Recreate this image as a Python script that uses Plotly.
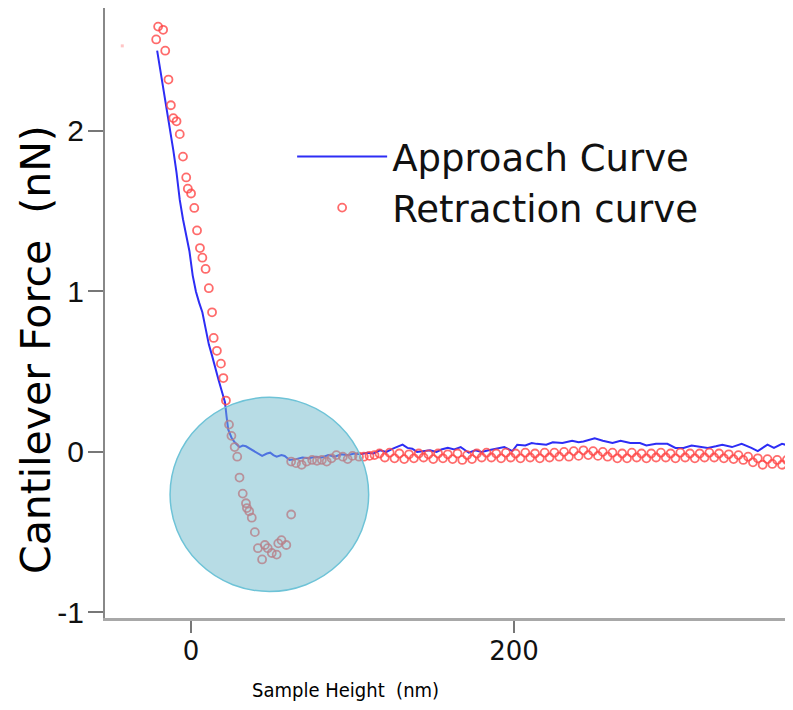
import plotly.graph_objects as go

# ---------------- data ----------------
approach_x = [-21, -19, -17, -15, -13, -11, -9, -7, -5, -3, -1, 1, 3, 5, 7, 9, 11, 13, 15, 17,
              19, 21, 22, 23, 25, 27, 30, 32, 34, 38, 41, 44, 47, 49, 51, 53, 56, 58, 61,
              65, 69, 73, 77, 81, 85, 89, 93, 97, 101, 105, 109, 113, 117,
              121, 125, 131, 134, 137, 140, 144, 148, 152, 155, 159, 163, 167, 172, 176, 180,
              185, 190, 194, 199, 202, 207, 211, 214, 220, 224, 230, 236, 240, 243, 247, 250,
              255, 261, 266, 272, 278, 282, 288, 295, 300, 305, 310, 314, 320, 325, 329, 335,
              341, 347, 351, 357, 361, 366, 372]
approach_y = [2.50, 2.38, 2.26, 2.12, 2.00, 1.88, 1.74, 1.57, 1.45, 1.35, 1.25, 1.10, 1.00, 0.93,
              0.87, 0.77, 0.67, 0.60, 0.52, 0.45, 0.38, 0.31, 0.22, 0.14, 0.09, 0.06, 0.03, 0.04,
              0.035, 0.01, -0.01, -0.025, -0.01, -0.005, -0.02, -0.03, -0.02, -0.025, -0.05,
              -0.045, -0.035, -0.04, -0.03, -0.035, -0.02, -0.03, -0.015, -0.02, -0.01, -0.015,
              -0.005, -0.01, 0.01, 0.0, 0.02, 0.045, 0.025, 0.02, 0.0, 0.005, 0.01, 0.0, 0.015,
              0.025, 0.015, 0.03, -0.005, 0.01, 0.0, 0.012, 0.02, 0.03, 0.005, 0.045, 0.04,
              0.055, 0.05, 0.045, 0.06, 0.055, 0.07, 0.06, 0.065, 0.075, 0.085, 0.07, 0.055,
              0.07, 0.055, 0.055, 0.04, 0.05, 0.05, 0.025, 0.025, 0.04, 0.035, 0.025, 0.035,
              0.045, 0.03, 0.05, 0.025, 0.005, 0.045, 0.025, 0.05, 0.035]

retraction_x = [-20.4, -17.3, -21.6, -16, -14, -12.5, -11, -9, -7, -5, -3, -2, 0, 2, 3.7, 5.5,
                7, 9, 11, 13, 14, 16, 18.5, 20, 21.6, 23.5, 25, 27, 28.6, 30, 32, 34, 34.6, 36,
                37.6, 39.5, 41.4, 44, 45.7, 47.5, 50, 53, 54, 56, 59, 62,
                62, 65, 68.5, 71.6, 75, 78, 81, 84, 87, 90, 94, 97, 100, 104, 107, 110.5,
                113.6, 116.7, 120, 123, 126, 129, 132, 135, 138, 141, 144, 147, 150, 153, 156,
                159, 162, 165, 168, 171, 174, 177, 180, 183, 186, 189, 192, 195, 198, 201, 204,
                207, 210, 213, 216, 219, 222, 225, 228, 231, 234, 237, 240, 243, 246, 249, 252,
                255, 258, 261, 264, 267, 270, 273, 276, 279, 282, 285, 288, 291, 294, 297, 300,
                303, 306, 309, 312, 315, 318, 321, 324, 327, 330, 333, 336, 339, 342, 345, 348,
                351, 354, 357, 360, 363, 366, 369, 372]
retraction_y = [2.65, 2.63, 2.57, 2.50, 2.32, 2.16, 2.08, 2.06, 1.98, 1.84, 1.71, 1.64, 1.61,
                1.52, 1.38, 1.27, 1.21, 1.14, 1.02, 0.87, 0.71, 0.63, 0.55, 0.46, 0.32, 0.17,
                0.10, 0.03, -0.03, -0.16, -0.26, -0.32, -0.35, -0.37, -0.41, -0.50, -0.60, -0.67,
                -0.58, -0.60, -0.63, -0.64, -0.57, -0.55, -0.58, -0.39,
                -0.06, -0.07, -0.08, -0.06, -0.05, -0.055, -0.05, -0.06, -0.04, -0.02, -0.03,
                -0.045, -0.025, -0.03, -0.03, -0.025, -0.02, -0.01, -0.035, -0.005, -0.04,
                -0.01, -0.045, -0.015, -0.04, -0.01, -0.035, -0.015, -0.045, -0.01, -0.04,
                -0.015, -0.045, -0.01, -0.05, -0.02, -0.045, -0.01, -0.035, -0.005, -0.035,
                -0.01, -0.04, -0.005, -0.035, -0.01, -0.04, -0.005, -0.035, -0.01, -0.04,
                -0.005, -0.035, -0.005, -0.03, 0.0, -0.03, 0.005, -0.025, 0.01, -0.02, 0.005,
                -0.025, 0.0, -0.03, -0.005, -0.04, -0.01, -0.04, -0.005, -0.035, -0.01,
                -0.04, -0.01, -0.035, -0.005, -0.035, -0.01, -0.04, -0.005, -0.035, -0.01,
                -0.04, -0.01, -0.035, -0.005, -0.035, -0.01, -0.04, -0.015, -0.045, -0.02,
                -0.05, -0.03, -0.065, -0.04, -0.08, -0.045, -0.075, -0.05, -0.08, -0.05,
                -0.075]

stray_x = [-42.6]
stray_y = [2.53]

x_tickvals = [0, 200]
x_ticktext = ["0", "200"]
y_tickvals = [-1, 0, 1, 2]
y_ticktext = ["-1", "0", "1", "2"]

# highlight circle (data units)
circle_x = [-13, 110]
circle_y = [-0.87, 0.34]

fig = go.Figure()

fig.add_trace(go.Scatter(
    x=stray_x, y=stray_y, mode="markers", showlegend=False, hoverinfo="skip",
    marker=dict(symbol="square", size=3, color="rgba(255,150,150,0.55)"),
))
fig.add_trace(go.Scatter(
    x=approach_x, y=approach_y, mode="lines", name="Approach Curve",
    line=dict(color="rgb(45,45,245)", width=2), legendgroup="a",
))
fig.add_trace(go.Scatter(
    x=retraction_x, y=retraction_y, mode="markers", name="Retraction curve",
    marker=dict(symbol="circle-open", size=8, color="rgba(255,70,70,0.8)",
                line=dict(width=1.8)),
    legendgroup="b",
))

fig.add_shape(type="circle", xref="x", yref="y",
              x0=circle_x[0], x1=circle_x[1], y0=circle_y[0], y1=circle_y[1],
              fillcolor="rgba(112,186,204,0.5)",
              line=dict(color="rgb(110,195,215)", width=1.5), layer="above")

fig.update_layout(
    width=785, height=702,
    margin=dict(l=97, r=0, t=0, b=92),
    paper_bgcolor="white", plot_bgcolor="white",
    font=dict(family="Liberation Sans, Arial, sans-serif", color="black"),
    showlegend=True,
    legend=dict(x=0.272, y=0.8066, xanchor="left", yanchor="top",
                bgcolor="rgba(0,0,0,0)", borderwidth=0,
                font=dict(family="DejaVu Sans", size=37, color="#111"),
                itemwidth=90, tracegroupgap=0),
    xaxis=dict(range=[-53.3, 372.8], showgrid=False, zeroline=False,
               showline=True, linecolor="#a8a8a8", linewidth=3,
               ticks="outside", ticklen=12, tickwidth=1.5, tickcolor="#777",
               tickvals=x_tickvals, ticktext=x_ticktext, ticklabelstandoff=-4,
               tickfont=dict(family="DejaVu Sans", size=26, color="#111")),
    yaxis=dict(range=[-1.035, 2.766], showgrid=False, zeroline=False,
               showline=True, linecolor="#888", linewidth=2,
               ticks="outside", ticklen=15, tickwidth=2, tickcolor="#777",
               tickvals=y_tickvals, ticktext=y_ticktext, ticklabelstandoff=-2,
               tickfont=dict(family="Liberation Sans", size=30, color="#111")),
    annotations=[
        dict(text="Cantilever Force\u00a0 (nN)", textangle=-90, x=-0.1003, y=0.441,
             xref="paper", yref="paper", xanchor="center", yanchor="middle",
             showarrow=False,
             font=dict(family="DejaVu Sans", size=41, color="black")),
        dict(text="Sample Height\u00a0 (nm)", x=0.349, y=-0.118,
             xref="paper", yref="paper", xanchor="center", yanchor="middle",
             showarrow=False,
             font=dict(family="DejaVu Sans Condensed, DejaVu Sans", size=20, color="black")),
    ],
)

fig.write_html("out.html")
